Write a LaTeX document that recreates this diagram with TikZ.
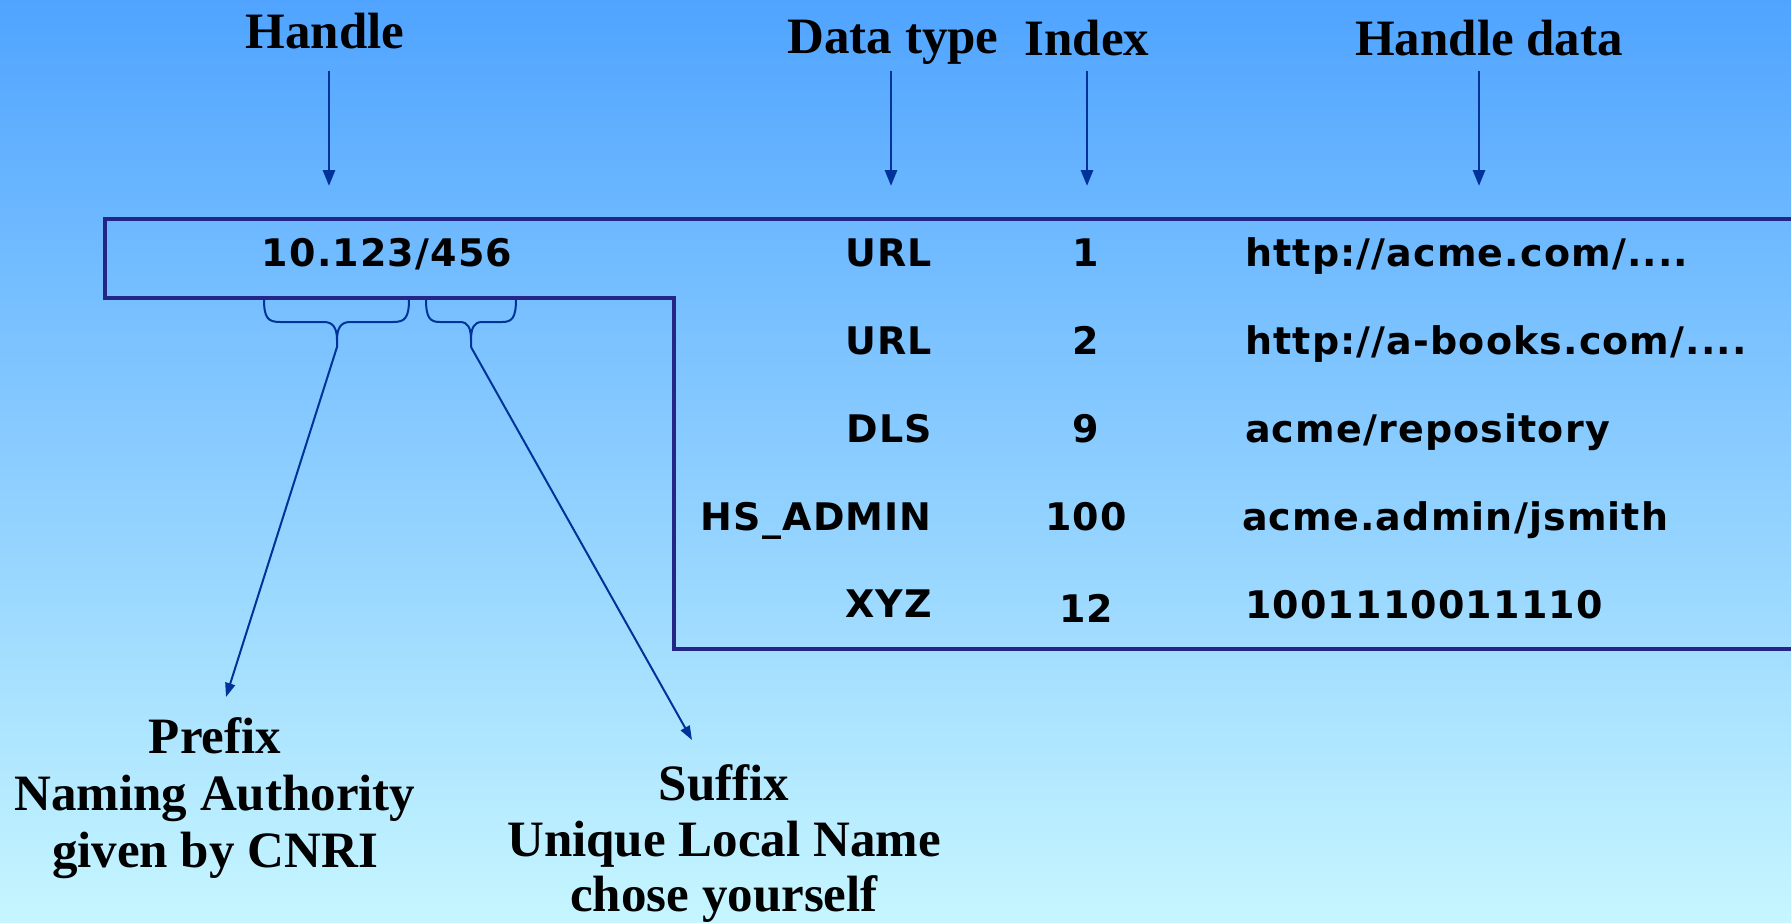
\documentclass[tikz,border=0pt]{standalone}
\usepackage{fontspec}
\setmainfont{Liberation Serif}
\newfontfamily\tblfont[LetterSpace=3]{DejaVu Sans}
\usetikzlibrary{arrows.meta}
\definecolor{bgtop}{RGB}{80,164,255}
\definecolor{bgmid}{RGB}{140,204,255}
\definecolor{bgbot}{RGB}{198,246,255}
\definecolor{arrowblue}{RGB}{0,51,153}
\definecolor{boxnavy}{RGB}{36,38,135}
\begin{document}
\begin{tikzpicture}[x=1pt,y=-1pt,
  hdr/.style={font=\fontsize{51}{56}\selectfont\bfseries, anchor=base, inner sep=0pt},
  lbl/.style={font=\fontsize{51}{56}\selectfont\bfseries, anchor=base, inner sep=0pt},
  cellR/.style={font=\tblfont\fontsize{38}{40}\selectfont\bfseries, anchor=base east, inner sep=0pt},
  cellC/.style={font=\tblfont\fontsize{38}{40}\selectfont\bfseries, anchor=base, inner sep=0pt},
  cellL/.style={font=\tblfont\fontsize{38}{40}\selectfont\bfseries, anchor=base west, inner sep=0pt},
  ptr/.style={draw=arrowblue, line width=2.8pt, -{Triangle[length=16pt,width=12pt]}},
  thin ptr/.style={draw=arrowblue, line width=2pt, -{Triangle[length=14pt,width=10pt]}},
  brace/.style={draw=arrowblue, line width=2pt},
  frame/.style={draw=boxnavy, line width=3.3pt}]
\useasboundingbox (0,0) rectangle (1791,922);
\shade[top color=bgtop, middle color=bgmid, bottom color=bgbot] (0,0) rectangle (1791,922);

% headers
\node[hdr] (hHandle) at (325,48) {Handle};
\node[hdr] (hType) at (893,53) {Data type};
\node[hdr] (hIndex) at (1087,55) {Index};
\node[hdr] (hData) at (1489,55) {Handle data};

\coordinate (aHandle0) at (329,71);  \coordinate (aHandle1) at (329,186);
\coordinate (aType0) at (891,71);    \coordinate (aType1) at (891,186);
\coordinate (aIndex0) at (1087,71);  \coordinate (aIndex1) at (1087,186);
\coordinate (aData0) at (1479,71);   \coordinate (aData1) at (1479,186);
\draw[ptr] (aHandle0) -- (aHandle1);
\draw[ptr] (aType0) -- (aType1);
\draw[ptr] (aIndex0) -- (aIndex1);
\draw[ptr] (aData0) -- (aData1);

% frame
\draw[frame] (1795,219) -- (105,219) -- (105,298) -- (674,298) -- (674,649) -- (1795,649);

% table
\node[cellC] (handle) at (387,266) {10.123/456};
\node[cellR] (t1) at (932,266) {URL};
\node[cellC] (i1) at (1086,266) {1};
\node[cellL] (d1) at (1245,266) {http://acme.com/....};
\node[cellR] (t2) at (932,354) {URL};
\node[cellC] (i2) at (1086,354) {2};
\node[cellL] (d2) at (1245,354) {http://a-books.com/....};
\node[cellR] (t3) at (932,442) {DLS};
\node[cellC] (i3) at (1086,442) {9};
\node[cellL] (d3) at (1245,442) {acme/repository};
\node[cellR] (t4) at (932,530) {HS\_ADMIN};
\node[cellC] (i4) at (1086,530) {100};
\node[cellL] (d4) at (1242,530) {acme.admin/jsmith};
\node[cellR] (t5) at (932,617) {XYZ};
\node[cellC] (i5) at (1086,622) {12};
\node[cellL] (d5) at (1245,618) {1001110011110};

% braces
\coordinate (pfxTip) at (337,347);
\coordinate (sfxTip) at (471,347);
\draw[brace] (264,299) .. controls (264,318) and (268,322) .. (280,322) -- (324,322)
  .. controls (333,322) and (337,328) .. (337,340) -- (pfxTip);
\draw[brace] (409,299) .. controls (409,318) and (405,322) .. (393,322) -- (350,322)
  .. controls (341,322) and (337,328) .. (337,340);
\draw[brace] (426,299) .. controls (426,318) and (430,322) .. (440,322) -- (460,322)
  .. controls (468,322) and (471,328) .. (471,340) -- (sfxTip);
\draw[brace] (516,299) .. controls (516,318) and (512,322) .. (502,322) -- (482,322)
  .. controls (474,322) and (471,328) .. (471,340);

% labels below
\node[lbl] (pfx1) at (215,753) {Prefix};
\node[lbl] (pfx2) at (215,810) {Naming Authority};
\node[lbl] (pfx3) at (215,867) {given by CNRI};
\node[lbl] (sfx1) at (724,800) {Suffix};
\node[lbl] (sfx2) at (724,856) {Unique Local Name};
\node[lbl] (sfx3) at (724,911) {chose yourself};

\coordinate (pfxEnd) at (226,697);
\coordinate (sfxEnd) at (692,740);
\draw[thin ptr] (pfxTip) -- (pfxEnd);
\draw[thin ptr] (sfxTip) -- (sfxEnd);
\end{tikzpicture}
\end{document}
